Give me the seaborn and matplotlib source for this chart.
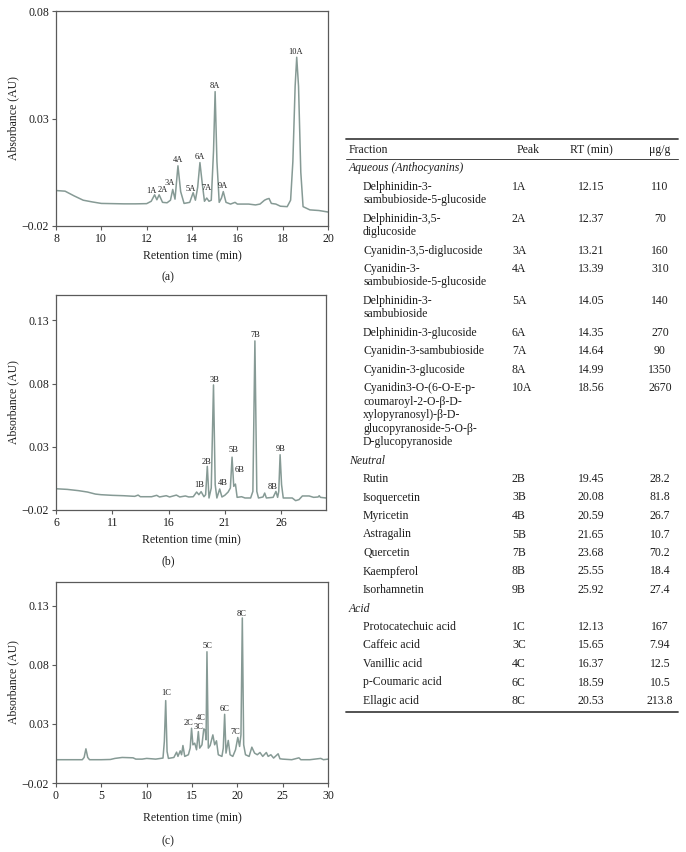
import matplotlib
matplotlib.use("Agg")
import matplotlib.pyplot as plt
import seaborn as sns
import pandas as pd
from matplotlib.lines import Line2D
from matplotlib.ticker import FuncFormatter

# ---------------- data: chromatogram (a) aqueous ----------------
a_time = [8.0, 8.4, 8.8, 9.2, 9.6, 10.0, 10.5, 11.0, 11.5, 12.0, 12.2, 12.35, 12.45, 12.55,
          12.7, 12.9, 13.05, 13.15, 13.25, 13.38, 13.5, 13.65, 13.9, 14.05, 14.15, 14.25,
          14.35, 14.45, 14.55, 14.65, 14.75, 14.85, 14.95, 15.02, 15.1, 15.2, 15.3, 15.38,
          15.5, 15.7, 15.9, 16.0, 16.5, 16.8, 17.0, 17.2, 17.3, 17.4, 17.5, 17.7, 17.9,
          18.2, 18.35, 18.45, 18.55, 18.62, 18.7, 18.8, 18.9, 19.2, 19.6, 20.0]
a_abs = [-0.0035, -0.0038, -0.0060, -0.0080, -0.0088, -0.0095, -0.0096, -0.0097, -0.0097,
         -0.0096, -0.0085, -0.0055, -0.0078, -0.0055, -0.0090, -0.0092, -0.0080, -0.0030,
         -0.0075, 0.0080, -0.0040, -0.0095, -0.0090, -0.0045, -0.0080, -0.0020, 0.0095,
         0.0000, -0.0085, -0.0070, -0.0085, -0.0080, 0.0150, 0.0425, 0.0100, -0.0090,
         -0.0070, -0.0040, -0.0090, -0.0098, -0.0090, -0.0098, -0.0098, -0.0102, -0.0098,
         -0.0080, -0.0075, -0.0072, -0.0095, -0.0098, -0.0108, -0.0110, -0.0080, 0.0100,
         0.0450, 0.0585, 0.0450, 0.0050, -0.0110, -0.0125, -0.0128, -0.0135]
a_peaks = ["1A", "2A", "3A", "4A", "5A", "6A", "7A", "8A", "9A", "10A"]
a_peak_t = [12.2, 12.71, 13.0, 13.36, 13.96, 14.33, 14.64, 15.0, 15.36, 18.56]
a_peak_y = [-0.0037, -0.0034, 0.0000, 0.0105, -0.0026, 0.0121, -0.0023, 0.0450, -0.0016, 0.0609]

# ---------------- data: chromatogram (b) neutral ----------------
b_time = [6.0, 7.0, 8.0, 8.8, 9.5, 10.0, 11.0, 12.0, 13.0, 13.3, 13.5, 14.5, 14.95, 15.2,
          15.8, 16.1, 16.7, 17.0, 17.5, 17.8, 18.2, 18.5, 18.7, 18.9, 19.15, 19.3, 19.45,
          19.6, 19.8, 20.0, 20.15, 20.3, 20.55, 20.75, 21.0, 21.3, 21.5, 21.65, 21.8, 21.95,
          22.1, 22.5, 22.8, 23.3, 23.5, 23.68, 23.85, 24.0, 24.4, 24.55, 24.7, 25.3, 25.55,
          25.7, 25.8, 25.92, 26.05, 26.2, 27.0, 27.3, 27.6, 27.9, 28.5, 28.9, 29.3, 29.4,
          29.5, 30.0]
b_abs = [-0.0032, -0.0037, -0.0047, -0.0058, -0.0074, -0.0079, -0.0084, -0.0087, -0.0092,
         -0.0082, -0.0095, -0.0095, -0.0084, -0.0097, -0.0087, -0.0097, -0.0082, -0.0097,
         -0.0089, -0.0097, -0.0095, -0.0058, -0.0079, -0.0055, -0.0095, -0.0079, 0.0145,
         -0.0105, -0.0026, 0.0789, 0.0000, -0.0105, -0.0034, -0.0097, -0.0084, -0.0058,
         -0.0026, 0.0218, -0.0013, 0.0005, -0.0100, -0.0095, -0.0105, -0.0105, -0.0053,
         0.1137, -0.0053, -0.0105, -0.0097, -0.0066, -0.0105, -0.0100, -0.0053, -0.0100,
         -0.0053, 0.0237, -0.0000, -0.0105, -0.0105, -0.0126, -0.0118, -0.0089, -0.0089,
         -0.0100, -0.0097, -0.0087, -0.0100, -0.0105]
b_peaks = ["1B", "2B", "3B", "4B", "5B", "6B", "7B", "8B", "9B"]
b_peak_t = [18.75, 19.34, 20.08, 20.82, 21.77, 22.3, 23.72, 25.26, 25.97]
b_peak_y = [-0.0005, 0.0179, 0.0829, 0.0013, 0.0271, 0.0118, 0.1184, -0.0018, 0.0284]

# ---------------- data: chromatogram (c) acid ----------------
c_time = [0.0, 1.0, 2.0, 2.9, 3.1, 3.3, 3.5, 3.7, 5.0, 6.0, 6.5, 7.3, 8.5, 8.8, 9.5, 10.0,
          11.0, 11.8, 11.95, 12.1, 12.25, 12.4, 13.0, 13.3, 13.45, 13.7, 13.85, 14.0, 14.2,
          14.6, 14.8, 14.95, 15.1, 15.3, 15.5, 15.7, 15.85, 16.1, 16.3, 16.45, 16.55, 16.65,
          16.8, 17.0, 17.3, 17.5, 17.7, 17.9, 18.3, 18.45, 18.6, 18.75, 19.0, 19.2, 19.5,
          19.8, 20.05, 20.25, 20.4, 20.55, 20.7, 20.9, 21.3, 21.6, 21.9, 22.2, 22.5, 22.8,
          23.2, 23.4, 23.7, 24.0, 24.5, 24.7, 25.0, 26.0, 26.8, 27.0, 28.0, 29.2, 29.5, 30.0]
c_abs = [-0.0003, -0.0003, -0.0003, -0.0003, 0.0016, 0.0089, 0.0016, -0.0003, -0.0003,
         -0.0001, 0.0008, 0.0016, 0.0013, 0.0002, 0.0002, 0.0008, 0.0002, 0.0011, 0.0151,
         0.0497, 0.0067, 0.0008, 0.0016, 0.0061, 0.0025, 0.0072, 0.0039, 0.0117, 0.0025,
         0.0039, 0.0095, 0.0263, 0.0123, 0.0137, 0.0081, 0.0235, 0.0095, 0.0123, 0.0258,
         0.0249, 0.0165, 0.0910, 0.0095, 0.0117, 0.0207, 0.0123, 0.0157, 0.0039, 0.0025,
         0.0095, 0.0381, 0.0053, 0.0160, 0.0039, 0.0025, 0.0081, 0.0185, 0.0109, 0.0207,
         0.1196, 0.0123, 0.0039, 0.0025, 0.0103, 0.0053, 0.0039, 0.0058, 0.0025, 0.0058,
         0.0025, 0.0039, 0.0011, 0.0047, 0.0005, 0.0002, -0.0003, 0.0013, -0.0003, -0.0003,
         0.0008, -0.0003, 0.0002]
c_peaks = ["1C", "2C", "3C", "4C", "5C", "6C", "7C", "8C"]
c_peak_t = [12.17, 14.56, 15.74, 15.99, 16.69, 18.57, 19.82, 20.51]
c_peak_y = [0.0558, 0.0306, 0.0272, 0.0348, 0.0960, 0.0426, 0.0230, 0.1227]

# ---------------- data: table ----------------
fraction_groups = ["Aqueous (Anthocyanins)", "Neutral", "Acid"]
aq_names = ["Delphinidin-3-\nsambubioside-5-glucoside", "Delphinidin-3,5-\ndiglucoside",
            "Cyanidin-3,5-diglucoside", "Cyanidin-3-\nsambubioside-5-glucoside",
            "Delphinidin-3-\nsambubioside", "Delphinidin-3-glucoside",
            "Cyanidin-3-sambubioside", "Cyanidin-3-glucoside",
            "Cyanidin3-O-(6-O-E-p-\ncoumaroyl-2-O-β-D-\nxylopyranosyl)-β-D-\nglucopyranoside-5-O-β-\nD-glucopyranoside"]
aq_peak = ["1A", "2A", "3A", "4A", "5A", "6A", "7A", "8A", "10A"]
aq_rt = ["12.15", "12.37", "13.21", "13.39", "14.05", "14.35", "14.64", "14.99", "18.56"]
aq_conc = ["110", "70", "160", "310", "140", "270", "90", "1350", "2670"]
ne_names = ["Rutin", "Isoquercetin", "Myricetin", "Astragalin", "Quercetin", "Kaempferol", "Isorhamnetin"]
ne_peak = ["2B", "3B", "4B", "5B", "7B", "8B", "9B"]
ne_rt = ["19.45", "20.08", "20.59", "21.65", "23.68", "25.55", "25.92"]
ne_conc = ["28.2", "81.8", "26.7", "10.7", "70.2", "18.4", "27.4"]
ac_names = ["Protocatechuic acid", "Caffeic acid", "Vanillic acid", "p-Coumaric acid", "Ellagic acid"]
ac_peak = ["1C", "3C", "4C", "6C", "8C"]
ac_rt = ["12.13", "15.65", "16.37", "18.59", "20.53"]
ac_conc = ["167", "7.94", "12.5", "10.5", "213.8"]
headers = ["Fraction", "Peak", "RT (min)", "μg/g"]

# ---------------- style ----------------
sns.set_theme(style="white")
plt.rcParams["font.family"] = ["Liberation Serif", "DejaVu Serif"]
plt.rcParams["axes.unicode_minus"] = True

W, H = 686, 852
fig = plt.figure(figsize=(W / 100, H / 100), dpi=100)
fig.patch.set_facecolor("white")

LINE = "#869a95"
SPINE = "#5a5a5a"
TXT = "#1e1e1e"


def fx(px):
    return px / W


def fy(py):
    return 1 - py / H


def fmt(v, _pos):
    s = "%.2f" % abs(v)
    return ("\u2212" + s) if v < -1e-9 else s


panels = [
    dict(t=a_time, y=a_abs, labs=a_peaks, lt=a_peak_t, ly=a_peak_y, box=(56, 11, 328, 226),
         xlim=(8, 20), ylim=(-0.02, 0.08), xt=[8, 10, 12, 14, 16, 18, 20],
         yt=[-0.02, 0.03, 0.08], tag="(a)", xlab_y=256, tag_y=277),
    dict(t=b_time, y=b_abs, labs=b_peaks, lt=b_peak_t, ly=b_peak_y, box=(56, 295, 326, 510),
         xlim=(6, 30), ylim=(-0.02, 0.15), xt=[6, 11, 16, 21, 26],
         yt=[-0.02, 0.03, 0.08, 0.13], tag="(b)", xlab_y=540, tag_y=561),
    dict(t=c_time, y=c_abs, labs=c_peaks, lt=c_peak_t, ly=c_peak_y, box=(56, 582, 328, 783),
         xlim=(0, 30), ylim=(-0.02, 0.15), xt=[0, 5, 10, 15, 20, 25, 30],
         yt=[-0.02, 0.03, 0.08, 0.13], tag="(c)", xlab_y=818, tag_y=841),
]

for p in panels:
    l, t, r, b = p["box"]
    ax = fig.add_axes([fx(l), fy(b), fx(r) - fx(l), fy(t) - fy(b)])
    df = pd.DataFrame({"time": p["t"], "abs": p["y"]})
    sns.lineplot(data=df, x="time", y="abs", ax=ax, color=LINE, lw=1.1,
                 estimator=None, sort=False)
    ax.set_xlim(*p["xlim"])
    ax.set_ylim(*p["ylim"])
    ax.set_xticks(p["xt"])
    ax.set_yticks(p["yt"])
    ax.yaxis.set_major_formatter(FuncFormatter(fmt))
    ax.tick_params(axis="both", labelsize=8.5, labelcolor=TXT, color=SPINE, direction="out",
                   length=3, width=0.8, left=True, bottom=True, pad=2)
    for s in ax.spines.values():
        s.set_visible(True)
        s.set_color(SPINE)
        s.set_linewidth(0.9)
    ax.set_xlabel("")
    ax.set_ylabel("")
    for lab, xx, yy in zip(p["labs"], p["lt"], p["ly"]):
        ax.text(xx, yy, lab, fontsize=6, ha="center", va="center", color=TXT)
    fig.text(fx((l + r) / 2), fy(p["xlab_y"]), "Retention time (min)", fontsize=8.5,
             ha="center", va="center", color=TXT)
    fig.text(fx(13), fy((t + b) / 2), "Absorbance (AU)", fontsize=8.5, rotation=90,
             ha="center", va="center", color=TXT)
    fig.text(fx(168), fy(p["tag_y"]), p["tag"], fontsize=8.5, ha="center", va="center",
             color=TXT)

# ---------------- table ----------------
TFS = 8.5
X0, X1 = 346, 678
X_GROUP, X_NAME, X_PEAK, X_RT, X_CONC = 349, 363, 512, 591, 660
ROW, SUBLINE = 18.5, 13.4


def hline(py, lw):
    fig.add_artist(Line2D([fx(X0), fx(X1)], [fy(py), fy(py)], transform=fig.transFigure,
                          color="#444444", lw=lw))


hline(139.3, 1.3)
hline(159.3, 0.7)
hline(712.3, 1.3)
hy = 150
fig.text(fx(X_GROUP), fy(hy), headers[0], fontsize=TFS, ha="left", va="center", color=TXT)
fig.text(fx(X_PEAK + 5), fy(hy), headers[1], fontsize=TFS, ha="left", va="center", color=TXT)
fig.text(fx(X_RT), fy(hy), headers[2], fontsize=TFS, ha="center", va="center", color=TXT)
fig.text(fx(X_CONC), fy(hy), headers[3], fontsize=TFS, ha="center", va="center", color=TXT)

y = 168.3
groups = [(aq_names, aq_peak, aq_rt, aq_conc), (ne_names, ne_peak, ne_rt, ne_conc),
          (ac_names, ac_peak, ac_rt, ac_conc)]
for gname, (names, pk, rt, cc) in zip(fraction_groups, groups):
    fig.text(fx(X_GROUP), fy(y), gname, fontsize=TFS, style="italic", ha="left",
             va="center", color=TXT)
    y += ROW
    for n, a, b_, c in zip(names, pk, rt, cc):
        lines = n.split("\n")
        for k, ln in enumerate(lines):
            fig.text(fx(X_NAME), fy(y + k * SUBLINE), ln, fontsize=TFS, ha="left",
                     va="center", color=TXT)
        fig.text(fx(X_PEAK), fy(y), a, fontsize=TFS, ha="left", va="center", color=TXT)
        fig.text(fx(X_RT), fy(y), b_, fontsize=TFS, ha="center", va="center", color=TXT)
        fig.text(fx(X_CONC), fy(y), c, fontsize=TFS, ha="center", va="center", color=TXT)
        y += ROW + SUBLINE * (len(lines) - 1)

fig.savefig("out.png", dpi=100, facecolor="white")
